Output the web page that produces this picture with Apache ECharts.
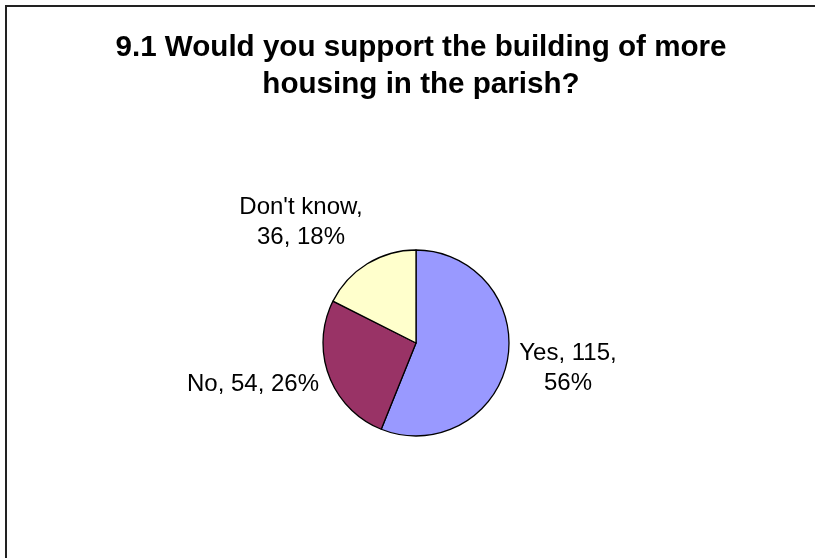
<!DOCTYPE html>
<html>
<head>
<meta charset="utf-8">
<script src="https://cdn.jsdelivr.net/npm/echarts@6/dist/echarts.min.js"></script>
<style>
html,body{margin:0;padding:0;background:#fff;}
#chart{width:815px;height:558px;}
</style>
</head>
<body>
<div id="chart"></div>
<script>
const titleText = "9.1 Would you support the building of more\nhousing in the parish?";
const categories = ["Yes", "No", "Don't know"];
const values = [115, 54, 36];
const colors = ["#9999FF", "#993366", "#FFFFCC"];
const labelTexts = ["Yes, 115,\n56%", "No, 54, 26%", "Don't know,\n36, 18%"];

// label anchor positions (layout/style only)
const labelAnchors = [[568, 368], [253, 384], [301, 222]];

const chart = echarts.init(document.getElementById('chart'), null, {renderer: 'canvas'});
const option = {
  backgroundColor: '#ffffff',
  animation: false,
  title: {
    text: titleText,
    left: 416,
    textAlign: 'center',
    top: 24,
    textStyle: {
      fontFamily: 'Liberation Sans, Arial, sans-serif',
      fontSize: 29.6,
      fontWeight: 'bold',
      color: '#000',
      lineHeight: 37
    }
  },
  graphic: [{
    type: 'rect',
    shape: {x: 6, y: 6, width: 900, height: 700},
    style: {fill: 'none', stroke: '#222', lineWidth: 2},
    silent: true
  }],
  series: [{
    type: 'pie',
    center: [416, 343],
    radius: 93,
    startAngle: 90,
    clockwise: true,
    avoidLabelOverlap: false,
    data: categories.map((c, i) => ({
      name: c,
      value: values[i],
      itemStyle: {color: colors[i]},
      label: {formatter: labelTexts[i]}
    })),
    itemStyle: {borderColor: '#000', borderWidth: 1.3},
    label: {
      show: true,
      position: 'outside',
      fontFamily: 'Liberation Sans, Arial, sans-serif',
      fontSize: 24,
      color: '#000',
      lineHeight: 30,
      align: 'center'
    },
    labelLine: {show: false},
    labelLayout: function (params) {
      const p = labelAnchors[params.dataIndex];
      return {x: p[0], y: p[1], align: 'center', verticalAlign: 'middle'};
    },
    emphasis: {disabled: true}
  }]
};
chart.setOption(option);
</script>
</body>
</html>
